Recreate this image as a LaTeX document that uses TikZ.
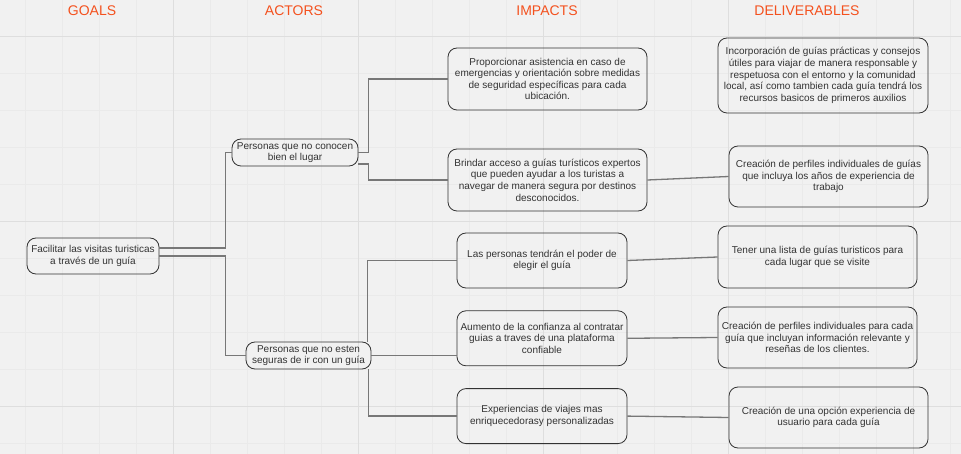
\documentclass[tikz,border=0pt]{standalone}
\usepackage{fontspec}
\setmainfont{Liberation Sans}
\usetikzlibrary{positioning}
\definecolor{canvasgray}{HTML}{F1F1F1}
\definecolor{gridminor}{HTML}{EAEAEA}
\definecolor{gridmajor}{HTML}{DEDEDE}
\definecolor{headred}{HTML}{F4511E}
\definecolor{ink}{HTML}{333333}
\definecolor{linkgray}{HTML}{777777}

\begin{document}
\begin{tikzpicture}[
  x=1pt, y=-1pt,
  font=\fontsize{10}{11.6}\selectfont,
  card/.style={draw=ink, rounded corners=9pt, line width=0.8pt, text=ink,
    align=center, inner sep=0pt},
  head/.style={text=headred, font=\fontsize{14}{16}\selectfont},
  link/.style={draw=linkgray, line width=1.3pt}
]

% canvas and grid
\fill[canvasgray] (0,0) rectangle (961,454);
\useasboundingbox (0,0) rectangle (961,454);
\foreach \x in {25,62,...,950}
  \draw[gridminor, line width=0.5pt] (\x,0) -- (\x,454);
\foreach \y in {36,73,...,454}
  \draw[gridminor, line width=0.5pt] (0,\y) -- (961,\y);
\foreach \x in {173,358,543,728,913}
  \draw[gridmajor, line width=0.7pt] (\x,0) -- (\x,454);
\foreach \y in {36,221,406}
  \draw[gridmajor, line width=0.7pt] (0,\y) -- (961,\y);

% column headers
\node[head] (hgoals) at (92,11) {GOALS};
\node[head] (hactors) at (294,11) {ACTORS};
\node[head] (himpacts) at (547,11) {IMPACTS};
\node[head] (hdeliv) at (807,11) {DELIVERABLES};

% goal and actors
\node[card, minimum width=132pt, minimum height=36pt] (goal) at (93,256)
  {Facilitar las visitas turisticas\\a través de un guía};
\node[card, minimum width=126pt, minimum height=27pt] (act1) at (295,152.5)
  {Personas que no conocen\\bien el lugar};
\node[card, minimum width=125pt, minimum height=27pt] (act2) at (308.5,355.5)
  {Personas que no esten\\seguras de ir con un guía};

% impacts
\node[card, minimum width=199pt, minimum height=62pt] (imp1) at (547.5,79)
  {Proporcionar asistencia en caso de\\emergencias y orientación sobre medidas\\de seguridad específicas para cada\\ubicación.};
\node[card, minimum width=199pt, minimum height=62pt] (imp2) at (547.5,180)
  {Brindar acceso a guías turísticos expertos\\que pueden ayudar a los turistas a\\navegar de manera segura por destinos\\desconocidos.};
\node[card, minimum width=170pt, minimum height=55pt] (imp3) at (542,260.5)
  {Las personas tendrán el poder de\\elegir el guía};
\node[card, minimum width=170pt, minimum height=55pt, below=22pt of imp3] (imp4)
  {Aumento de la confianza al contratar\\guias a traves de una plataforma\\confiable};
\node[card, minimum width=170pt, minimum height=55pt, below=22pt of imp4] (imp5)
  {Experiencias de viajes mas\\enriquecedorasy personalizadas};

% deliverables
\node[card, minimum width=210pt, minimum height=75pt] (del1) at (823,75.5)
  {Incorporación de guías prácticas y consejos\\útiles para viajar de manera responsable y\\respetuosa con el entorno y la comunidad\\local, así como tambien cada guía tendrá los\\recursos basicos de primeros auxilios};
\node[card, minimum width=199pt, minimum height=61pt] (del2) at (828.5,176.5)
  {Creación de perfiles individuales de guías\\que incluya los años de experiencia de\\trabajo};
\node[card, minimum width=199pt, minimum height=62pt] (del3) at (817.5,257)
  {Tener una lista de guías turisticos para\\cada lugar que se visite};
\node[card, minimum width=199pt, minimum height=61pt] (del4) at (817.5,337.5)
  {Creación de perfiles individuales para cada\\guía que incluyan información relevante y\\reseñas de los clientes.};
\node[card, minimum width=199pt, minimum height=61pt] (del5) at (828.5,417.5)
  {Creación de una opción experiencia de\\usuario para cada guía};

% connectors
\draw[link] ([yshift=8pt]goal.east) -- ++(66,0) |- (act1.west);
\draw[link] (goal.east) -- ++(66,0) |- (act2.west);
\draw[link] (act1.east) -- ++(10,0) |- (imp1.west);
\draw[link] ([yshift=-11.5pt]act1.east) -- ++(10,0) |- (imp2.west);
\draw[link] ([xshift=-4pt]act2.north east) |- (imp3.west);
\draw[link] (act2.east) -- (act2.east -| imp4.west);
\draw[link] ([xshift=-3pt]act2.south east) |- (imp5.west);
\foreach \a/\b in {imp2/del2,imp3/del3,imp4/del4,imp5/del5}
  \draw[link] (\a.east) -- (\b.west);

\end{tikzpicture}
\end{document}
